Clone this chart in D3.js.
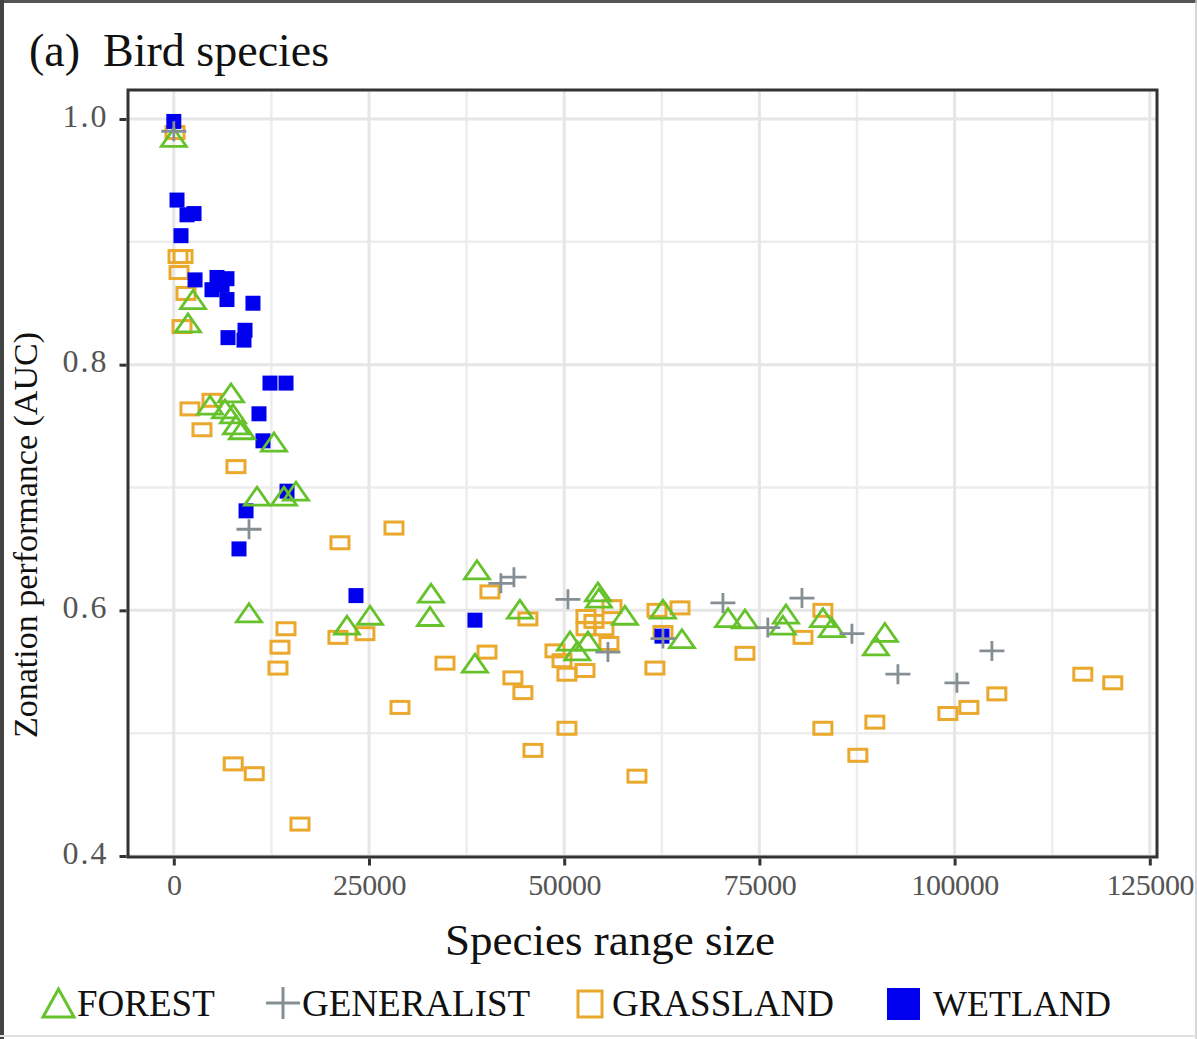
<!DOCTYPE html>
<html>
<head>
<meta charset="utf-8">
<script src="https://cdn.jsdelivr.net/npm/d3@7/dist/d3.min.js"></script>
<style>
  html, body { margin: 0; padding: 0; background: #fff; }
  svg { display: block; font-family: "Liberation Serif", "Times New Roman", serif; }
</style>
</head>
<body>
<svg id="chart" width="1197" height="1039"></svg>
<script>
// ---------------- DATA ----------------
const seriesNames = ["FOREST", "GENERALIST", "GRASSLAND", "WETLAND"];

const forest = [
  [0, 0.985], [2460, 0.853], [1820, 0.834], [7330, 0.777], [4640, 0.767], [6560, 0.764],
  [7580, 0.760], [7970, 0.751], [8730, 0.747], [12830, 0.737], [10660, 0.693], [14110, 0.693],
  [15650, 0.697], [9630, 0.598], [22180, 0.588], [25130, 0.596], [32940, 0.614], [32810, 0.595],
  [38830, 0.633], [44330, 0.601], [38570, 0.557], [54320, 0.615], [54450, 0.610], [57780, 0.596],
  [50740, 0.575], [53040, 0.575], [51680, 0.567], [62650, 0.601], [65080, 0.577], [70980, 0.594],
  [73150, 0.593], [78400, 0.597], [78010, 0.588], [83130, 0.594], [84280, 0.586], [91070, 0.582],
  [89920, 0.571]
];

const generalist = [
  [0, 0.990], [9630, 0.666], [41890, 0.622], [43560, 0.627], [50480, 0.609], [55600, 0.566],
  [62650, 0.577], [70330, 0.606], [76080, 0.586], [80450, 0.610], [86850, 0.581], [92740, 0.548],
  [100300, 0.541], [104780, 0.567]
];

const grassland = [
  [150, 0.989], [540, 0.888], [1180, 0.888], [670, 0.875], [1560, 0.858], [1050, 0.831],
  [2070, 0.764], [3610, 0.747], [4890, 0.771], [7960, 0.717], [21280, 0.655], [28200, 0.667],
  [21020, 0.578], [24480, 0.581], [14370, 0.585], [13600, 0.570], [13340, 0.553], [28970, 0.521],
  [34730, 0.557], [40110, 0.566], [40490, 0.615], [43430, 0.545], [44710, 0.533], [45350, 0.593],
  [46000, 0.486], [48820, 0.567], [49720, 0.559], [50350, 0.548], [50350, 0.504], [52660, 0.551],
  [52790, 0.595], [53810, 0.591], [55090, 0.585], [56120, 0.603], [55730, 0.573], [52790, 0.585],
  [59320, 0.465], [61620, 0.553], [61880, 0.600], [64830, 0.602], [62650, 0.582], [73150, 0.565],
  [80580, 0.578], [83130, 0.600], [83130, 0.504], [87610, 0.482], [89790, 0.509], [99140, 0.516],
  [101830, 0.521], [105410, 0.532], [116420, 0.548], [120260, 0.541], [7610, 0.475], [10300, 0.467],
  [16160, 0.426]
];

const wetland = [
  [0, 0.998], [410, 0.934], [1690, 0.922], [2590, 0.923], [920, 0.905], [2720, 0.869],
  [5530, 0.871], [4890, 0.861], [6810, 0.870], [6180, 0.865], [6810, 0.853], [10140, 0.850],
  [6940, 0.822], [9120, 0.828], [8990, 0.820], [12320, 0.785], [14370, 0.785], [10910, 0.760],
  [11420, 0.738], [14500, 0.697], [9250, 0.681], [8350, 0.650], [23330, 0.612], [38570, 0.592],
  [62520, 0.579]
];

const xTicks = [0, 25000, 50000, 75000, 100000, 125000];
const xTickLabels = ["0", "25000", "50000", "75000", "100000", "125000"];
const xMinor = [12500, 37500, 62500, 87500, 112500];
const yTicks = [0.4, 0.6, 0.8, 1.0];
const yTickLabels = ["0.4", "0.6", "0.8", "1.0"];
const yMinor = [0.5, 0.7, 0.9];

const titleText = "(a)\u00a0\u00a0Bird species";
const xTitle = "Species range size";
const yTitle = "Zonation performance (AUC)";

// ---------------- STYLE ----------------
const colors = { FOREST: "#66c22b", GENERALIST: "#858f93", GRASSLAND: "#eaa82c", WETLAND: "#0000ee" };
const W = 1197, H = 1039;
const panel = { left: 128, right: 1157, top: 90, bottom: 857 };

const svg = d3.select("#chart");

// outer frame
svg.append("rect").attr("x", 0).attr("y", 0).attr("width", W).attr("height", H).attr("fill", "#fff");
svg.append("line").attr("x1", 0).attr("x2", W).attr("y1", 1.5).attr("y2", 1.5).attr("stroke", "#555").attr("stroke-width", 3);
svg.append("line").attr("x1", 2).attr("x2", 2).attr("y1", 0).attr("y2", H).attr("stroke", "#444").attr("stroke-width", 4);
svg.append("line").attr("x1", W - 1).attr("x2", W - 1).attr("y1", 0).attr("y2", H).attr("stroke", "#c8c8c8").attr("stroke-width", 1.5);
svg.append("line").attr("x1", 0).attr("x2", W).attr("y1", H - 3).attr("y2", H - 3).attr("stroke", "#e0e0e0").attr("stroke-width", 2);

const x = d3.scaleLinear().domain([-5866, 125922]).range([panel.left, panel.right]);
const y = d3.scaleLinear().domain([0.3992, 1.0236]).range([panel.bottom, panel.top]);

// gridlines
const grid = svg.append("g");
grid.selectAll("line.xmin").data(xMinor).join("line")
  .attr("x1", d => x(d)).attr("x2", d => x(d)).attr("y1", panel.top).attr("y2", panel.bottom)
  .attr("stroke", "#ededed").attr("stroke-width", 2.5);
grid.selectAll("line.ymin").data(yMinor).join("line")
  .attr("y1", d => y(d)).attr("y2", d => y(d)).attr("x1", panel.left).attr("x2", panel.right)
  .attr("stroke", "#ededed").attr("stroke-width", 2.5);
grid.selectAll("line.xmaj").data(xTicks).join("line")
  .attr("x1", d => x(d)).attr("x2", d => x(d)).attr("y1", panel.top).attr("y2", panel.bottom)
  .attr("stroke", "#e6e6e6").attr("stroke-width", 3);
grid.selectAll("line.ymaj").data(yTicks).join("line")
  .attr("y1", d => y(d)).attr("y2", d => y(d)).attr("x1", panel.left).attr("x2", panel.right)
  .attr("stroke", "#e6e6e6").attr("stroke-width", 3);

// marker shapes
function triPath(cx, cy, w, h) {
  return `M${cx - w / 2},${cy + h / 2}L${cx},${cy - h / 2}L${cx + w / 2},${cy + h / 2}Z`;
}
function plusPath(cx, cy, w, h) {
  return `M${cx - w / 2},${cy}H${cx + w / 2}M${cx},${cy - h / 2}V${cy + h / 2}`;
}

const marks = svg.append("g");
marks.selectAll("rect.grass").data(grassland).join("rect")
  .attr("x", d => x(d[0]) - 9).attr("y", d => y(d[1]) - 6)
  .attr("width", 18).attr("height", 12)
  .attr("fill", "none").attr("stroke", colors.GRASSLAND).attr("stroke-width", 3);
marks.selectAll("rect.wet").data(wetland).join("rect")
  .attr("x", d => x(d[0]) - 7.5).attr("y", d => y(d[1]) - 7.5)
  .attr("width", 15).attr("height", 15)
  .attr("fill", colors.WETLAND);
marks.selectAll("path.forest").data(forest).join("path")
  .attr("d", d => triPath(x(d[0]), y(d[1]), 25, 18))
  .attr("fill", "none").attr("stroke", colors.FOREST).attr("stroke-width", 2.8).attr("stroke-linejoin", "miter");
marks.selectAll("path.gen").data(generalist).join("path")
  .attr("d", d => plusPath(x(d[0]), y(d[1]), 25, 20))
  .attr("fill", "none").attr("stroke", colors.GENERALIST).attr("stroke-width", 2.8);

// panel border
svg.append("rect")
  .attr("x", panel.left).attr("y", panel.top)
  .attr("width", panel.right - panel.left).attr("height", panel.bottom - panel.top)
  .attr("fill", "none").attr("stroke", "#333").attr("stroke-width", 3);

// axes
const xAxis = svg.append("g").attr("transform", `translate(0,${panel.bottom + 1.5})`)
  .call(d3.axisBottom(x).tickValues(xTicks).tickFormat((d, i) => xTickLabels[i]).tickSize(7).tickPadding(8));
xAxis.select(".domain").remove();
xAxis.selectAll(".tick line").attr("stroke", "#333").attr("stroke-width", 3);
xAxis.selectAll(".tick text").attr("font-size", 30).attr("fill", "#555")
  .attr("font-family", "Liberation Serif, serif").attr("letter-spacing", "-0.4px");

const yAxis = svg.append("g").attr("transform", `translate(${panel.left - 1.5},0)`)
  .call(d3.axisLeft(y).tickValues(yTicks).tickFormat((d, i) => yTickLabels[i]).tickSize(7).tickPadding(11));
yAxis.select(".domain").remove();
yAxis.selectAll(".tick line").attr("stroke", "#333").attr("stroke-width", 3);
yAxis.selectAll(".tick text").attr("font-size", 32).attr("fill", "#555")
  .attr("font-family", "Liberation Serif, serif").attr("dy", "0.22em").attr("letter-spacing", "2px");

// titles
svg.append("text").attr("x", 29).attr("y", 66).attr("font-size", 46).attr("fill", "#111").text(titleText);
svg.append("text").attr("x", 610).attr("y", 955).attr("text-anchor", "middle")
  .attr("font-size", 45).attr("fill", "#111").text(xTitle);
svg.append("text").attr("transform", "translate(37,535) rotate(-90)").attr("text-anchor", "middle")
  .attr("font-size", 34).attr("fill", "#111").text(yTitle);

// legend
const lg = svg.append("g");
const legendBase = 1016, legendMid = 1003;
lg.append("path").attr("d", triPath(58.5, legendMid, 31, 28))
  .attr("fill", "none").attr("stroke", colors.FOREST).attr("stroke-width", 3);
lg.append("text").attr("x", 77).attr("y", legendBase).attr("font-size", 37).attr("fill", "#111").text(seriesNames[0]);
lg.append("path").attr("d", plusPath(283, legendMid, 34, 32))
  .attr("fill", "none").attr("stroke", colors.GENERALIST).attr("stroke-width", 3);
lg.append("text").attr("x", 302).attr("y", legendBase).attr("font-size", 37).attr("fill", "#111").text(seriesNames[1]);
lg.append("rect").attr("x", 578).attr("y", 991).attr("width", 24).attr("height", 26)
  .attr("fill", "none").attr("stroke", colors.GRASSLAND).attr("stroke-width", 3);
lg.append("text").attr("x", 612).attr("y", legendBase).attr("font-size", 37).attr("fill", "#111").text(seriesNames[2]);
lg.append("rect").attr("x", 887).attr("y", 988).attr("width", 33).attr("height", 32)
  .attr("fill", colors.WETLAND);
lg.append("text").attr("x", 933).attr("y", legendBase).attr("font-size", 36).attr("fill", "#111").text(seriesNames[3]);
</script>
</body>
</html>
